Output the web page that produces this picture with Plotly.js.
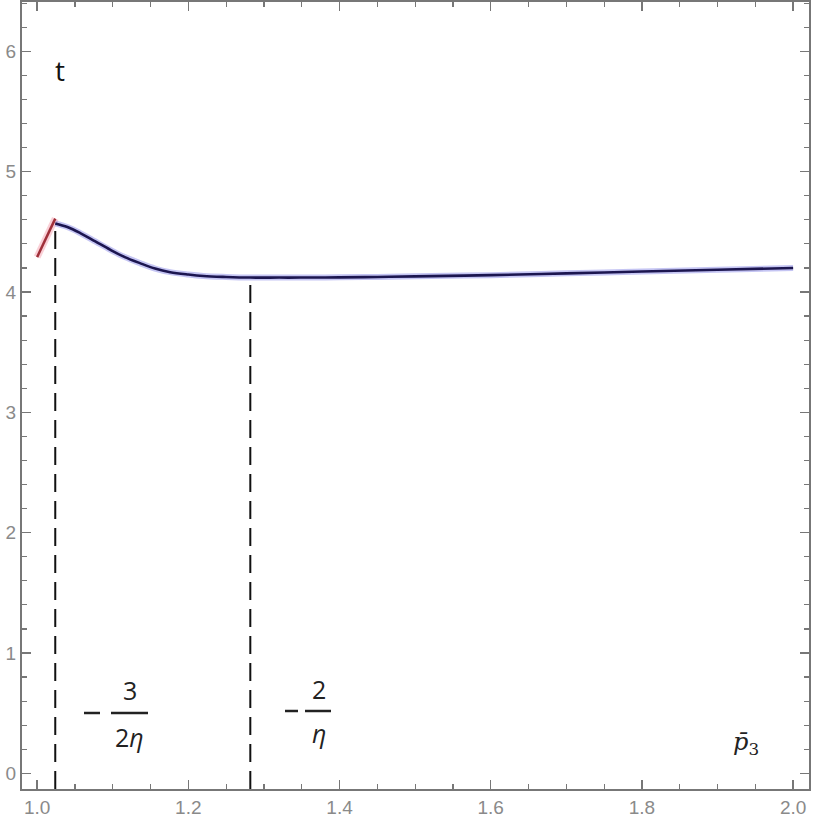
<!DOCTYPE html>
<html><head><meta charset="utf-8">
<script src="https://cdn.plot.ly/plotly-3.0.1.min.js"></script>
<style>body{margin:0;background:#fff}#g{width:830px;height:828px}</style>
</head><body><div id="g"></div>
<script>
// Data
const redX = [1.000, 1.012, 1.024];
const redY = [4.29, 4.45, 4.61];
const blueX = [1.024, 1.040, 1.057, 1.077, 1.097, 1.116, 1.136, 1.156, 1.176, 1.200, 1.220, 1.250, 1.282, 1.320, 1.348, 1.400, 1.450, 1.500, 1.600, 1.700, 1.800, 1.900, 2.000];
const blueY = [4.57, 4.54, 4.49, 4.42, 4.35, 4.29, 4.24, 4.195, 4.165, 4.145, 4.133, 4.125, 4.12, 4.12, 4.12, 4.122, 4.125, 4.13, 4.14, 4.155, 4.17, 4.185, 4.20];
const markX = [1.024, 1.282];
const markY = [4.57, 4.12];
const xTicks = [1.0, 1.2, 1.4, 1.6, 1.8, 2.0];
const xTickText = ["1.0", "1.2", "1.4", "1.6", "1.8", "2.0"];
const yTicks = [0, 1, 2, 3, 4, 5, 6];

const traces = [];
traces.push({x: redX, y: redY, mode: 'lines', line: {color: 'rgba(240,120,140,0.35)', width: 7}, hoverinfo: 'skip'});
traces.push({x: redX, y: redY, mode: 'lines', line: {color: '#a0303a', width: 2.5}});
traces.push({x: blueX, y: blueY, mode: 'lines', line: {color: 'rgba(90,90,220,0.35)', width: 6, shape: 'spline'}, hoverinfo: 'skip'});
traces.push({x: blueX, y: blueY, mode: 'lines', line: {color: '#1c1650', width: 2.6, shape: 'spline'}});
for (let i = 0; i < markX.length; i++) {
  traces.push({x: [markX[i], markX[i]], y: [-0.13, markY[i]], mode: 'lines',
    line: {color: '#111', width: 2, dash: '18px,9px'}});
}

const px = v => (v - 22) / 787;
const py = v => (789 - v) / 787;
const fracFont = {family: 'Open Sans, DejaVu Sans, sans-serif', size: 25, color: '#222'};
const annotations = [
  {text: 't', x: px(60), y: py(70), font: {family: 'Open Sans, sans-serif', size: 28, color: '#111'}},
  {text: '3', x: px(130), y: py(690), font: fracFont},
  {text: '2<i>η</i>', x: px(129), y: py(737), font: fracFont},
  {text: '2', x: px(319), y: py(689), font: fracFont},
  {text: '<i>η</i>', x: px(319), y: py(733), font: fracFont},
  {text: '<i>p̄</i><sub>3</sub>', x: px(746), y: py(743), font: {family: 'DejaVu Serif, serif', size: 24, color: '#222'}}
].map(a => Object.assign({xref: 'paper', yref: 'paper', showarrow: false, xanchor: 'center', yanchor: 'middle'}, a));

const bar = (x0, x1, y) => ({type: 'line', xref: 'paper', yref: 'paper', x0: px(x0), x1: px(x1), y0: py(y), y1: py(y), line: {color: '#222', width: 2.5}});
const shapes = [
  bar(84, 100, 713), bar(111, 148, 713),
  bar(285, 298, 711), bar(305, 331, 711)
];

const tickFont = {family: 'Liberation Sans, Arial, sans-serif', size: 19, color: '#8a8a8a'};
const axisCommon = {
  showline: true, linecolor: '#777', linewidth: 2, mirror: 'ticks',
  ticks: 'inside', ticklen: 9, tickwidth: 1.5, tickcolor: '#777',
  showgrid: false, zeroline: false, automargin: false
};

const layout = {
  width: 830, height: 828,
  margin: {l: 22, r: 21, t: 2, b: 39},
  font: {family: 'Liberation Sans, Arial, sans-serif', size: 19, color: '#8a8a8a'},
  paper_bgcolor: '#fff', plot_bgcolor: '#fff',
  showlegend: false,
  xaxis: Object.assign({}, axisCommon, {range: [0.98, 2.021], tickvals: xTicks, ticktext: xTickText, tickfont: tickFont,
    minor: {ticks: 'inside', dtick: 0.05, tick0: 0, ticklen: 5, tickcolor: '#777', tickwidth: 1.2}}),
  yaxis: Object.assign({}, axisCommon, {range: [-0.13, 6.41], tickvals: yTicks, tickfont: tickFont,
    minor: {ticks: 'inside', dtick: 0.2, tick0: 0, ticklen: 5, tickcolor: '#777', tickwidth: 1.2}}),
  annotations: annotations,
  shapes: shapes
};

Plotly.newPlot('g', traces, layout, {staticPlot: true});
</script></body></html>
